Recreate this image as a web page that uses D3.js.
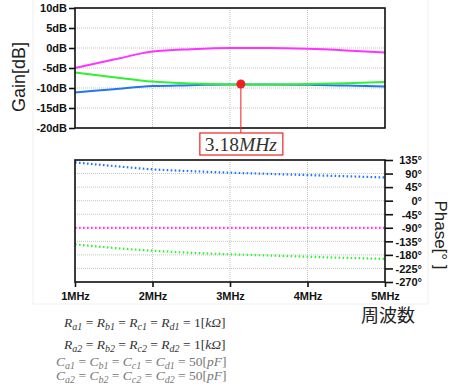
<!DOCTYPE html>
<html>
<head>
<meta charset="utf-8">
<script src="https://cdn.jsdelivr.net/npm/d3@7"></script>
<style>
  html, body { margin: 0; padding: 0; background: #fff; }
  svg { display: block; }
  .tick-label { font-family: "Liberation Sans", Arial, sans-serif; font-weight: bold; font-size: 11px; fill: #111; }
  .formula { font-family: "Liberation Serif", "DejaVu Serif", serif; font-size: 13.5px; }
</style>
</head>
<body>
<svg id="chart"></svg>
<script>
// data
const freqMHz = [1, 1.5, 2, 2.5, 3, 3.5, 4, 4.5, 5];
const gainMagenta = [-5, -2.9, -0.9, -0.3, 0, 0, -0.2, -0.6, -1.1];
const gainGreen = [-6.1, -7.3, -8.4, -8.9, -9.1, -9.1, -9.0, -8.8, -8.5];
const gainBlue = [-11.1, -10.3, -9.5, -9.3, -9.1, -9.1, -9.2, -9.4, -9.6];
const phaseBlue = [127, 115, 104, 98, 93, 89, 85, 81, 77];
const phaseMagenta = [-90, -90, -90, -90, -90, -90, -90, -90, -90];
const phaseGreen = [-145, -157, -166, -173, -178, -182, -186, -190, -193];

const xTicks = [1, 2, 3, 4, 5];
const gainTicks = [10, 5, 0, -5, -10, -15, -20];
const phaseTicks = [135, 90, 45, 0, -45, -90, -135, -180, -225, -270];
// marker sits where the picture draws it (label reads 3.18)
const markerFreq = 3.14;
const markerGain = -9.0;
const markerLabel = '3.18';

const colors = { magenta: '#ff33ff', green: '#33ee33', blue: '#2277ee', red: '#ee2222' };

const width = 453, height = 389;
const svg = d3.select('#chart').attr('width', width).attr('height', height);

// faint pasted-image frame
svg.append('rect')
  .attr('x', 33).attr('y', -1).attr('width', 395).attr('height', 305)
  .attr('fill', 'none').attr('stroke', '#f0f0f0');

const x = d3.scaleLinear().domain([1, 5]).range([75, 385]);
const yGain = d3.scaleLinear().domain([-20, 10]).range([128, 8]);
const yPhase = d3.scaleLinear().domain([-270, 135]).range([282, 160]);

function grid(g, yScale, yTicks, top, bottom) {
  g.selectAll('line.h').data(yTicks).enter().append('line')
    .attr('x1', x(1)).attr('x2', x(5))
    .attr('y1', d => yScale(d)).attr('y2', d => yScale(d))
    .attr('stroke', '#c4c4c4').attr('stroke-dasharray', '1,1');
  g.selectAll('line.v').data(xTicks).enter().append('line')
    .attr('y1', top).attr('y2', bottom)
    .attr('x1', d => x(d)).attr('x2', d => x(d))
    .attr('stroke', '#c4c4c4').attr('stroke-dasharray', '1,1');
}

function frame(top, bottom) {
  svg.append('rect')
    .attr('x', x(1)).attr('y', top)
    .attr('width', x(5) - x(1)).attr('height', bottom - top)
    .attr('fill', 'none').attr('stroke', '#111').attr('stroke-width', 1.6);
}

// ---- Gain chart ----
const gGain = svg.append('g');
grid(gGain, yGain, gainTicks, yGain(10), yGain(-20));

const gainLine = d3.line().x((d, i) => x(freqMHz[i])).y(d => yGain(d)).curve(d3.curveMonotoneX);
[[gainBlue, colors.blue], [gainGreen, colors.green], [gainMagenta, colors.magenta]].forEach(([vals, c]) => {
  gGain.append('path').datum(vals).attr('d', gainLine)
    .attr('fill', 'none').attr('stroke', c).attr('stroke-width', 2);
});
frame(yGain(10), yGain(-20));

const gainAxis = d3.axisLeft(yGain).tickValues(gainTicks).tickSize(6).tickPadding(2)
  .tickFormat(d => d + 'dB');
const gGainAxis = svg.append('g').attr('transform', `translate(${x(1)},0)`).call(gainAxis);
gGainAxis.select('.domain').remove();
gGainAxis.selectAll('.tick line').attr('stroke', '#111').attr('stroke-width', 1.6);
gGainAxis.selectAll('.tick text').attr('class', 'tick-label').attr('dy', '0.35em');

svg.append('text')
  .attr('transform', `translate(25,77) rotate(-90)`)
  .attr('text-anchor', 'middle')
  .style('font-family', '"Liberation Sans", Arial, sans-serif')
  .style('font-size', '18px').style('fill', '#222')
  .text('Gain[dB]');

// ---- Phase chart ----
const gPhase = svg.append('g');
grid(gPhase, yPhase, phaseTicks, yPhase(135), yPhase(-270));

const phaseLine = d3.line().x((d, i) => x(freqMHz[i])).y(d => yPhase(d)).curve(d3.curveMonotoneX);
[[phaseBlue, colors.blue], [phaseMagenta, colors.magenta], [phaseGreen, colors.green]].forEach(([vals, c]) => {
  gPhase.append('path').datum(vals).attr('d', phaseLine)
    .attr('fill', 'none').attr('stroke', c).attr('stroke-width', 2.2)
    .attr('stroke-dasharray', '1.6,2.4');
});
frame(yPhase(135), yPhase(-270));

const phaseAxis = d3.axisRight(yPhase).tickValues(phaseTicks).tickSize(8).tickPadding(0)
  .tickFormat(d => d + '°');
const gPhaseAxis = svg.append('g').attr('transform', `translate(${x(5)},0)`).call(phaseAxis);
gPhaseAxis.select('.domain').remove();
gPhaseAxis.selectAll('.tick line').attr('stroke', '#111').attr('stroke-width', 1.6);
gPhaseAxis.selectAll('.tick text').attr('class', 'tick-label')
  .attr('text-anchor', 'end').attr('x', 37).attr('dy', '0.35em');

const xAxis = d3.axisBottom(x).tickValues(xTicks).tickSize(5).tickPadding(3)
  .tickFormat(d => d + 'MHz');
const gXAxis = svg.append('g').attr('transform', `translate(0,${yPhase(-270)})`).call(xAxis);
gXAxis.select('.domain').remove();
gXAxis.selectAll('.tick line').attr('stroke', '#111').attr('stroke-width', 1.6);
gXAxis.selectAll('.tick text').attr('class', 'tick-label').attr('dy', '0.9em');

svg.append('text')
  .attr('transform', `translate(435,235) rotate(90)`)
  .attr('text-anchor', 'middle')
  .style('font-family', '"Liberation Sans", Arial, sans-serif')
  .style('font-size', '17px').style('fill', '#222')
  .text('Phase[° ]');

svg.append('text')
  .attr('x', 388).attr('y', 322)
  .attr('text-anchor', 'middle')
  .style('font-family', '"Noto Sans CJK JP", sans-serif')
  .style('font-size', '18px').style('fill', '#222')
  .text('周波数');

// ---- marker + annotation ----
const mx = x(markerFreq), my = yGain(markerGain);
svg.append('line')
  .attr('x1', mx).attr('x2', mx).attr('y1', my).attr('y2', 133)
  .attr('stroke', colors.red).attr('stroke-width', 1);
svg.append('circle').attr('cx', mx).attr('cy', my).attr('r', 4.5).attr('fill', colors.red);
svg.append('rect')
  .attr('x', mx - 41).attr('y', 133).attr('width', 83).attr('height', 22)
  .attr('fill', '#fff').attr('stroke', colors.red).attr('stroke-width', 1.2);
const ann = svg.append('text')
  .attr('x', mx).attr('y', 150.5).attr('text-anchor', 'middle')
  .style('font-family', '"Liberation Serif", "DejaVu Serif", serif')
  .style('font-size', '19.5px').style('fill', '#333');
ann.append('tspan').text(markerLabel);
ann.append('tspan').style('font-style', 'italic').text('MHz');

// ---- formulas ----
function formula(xPos, yPos, sym, idx, value, color) {
  const t = svg.append('text').attr('class', 'formula')
    .attr('x', xPos).attr('y', yPos).style('fill', color);
  ['a', 'b', 'c', 'd'].forEach((s, i) => {
    t.append('tspan').style('font-style', 'italic').text(sym);
    t.append('tspan').style('font-style', 'italic').style('font-size', '10px')
      .attr('dy', 3).text(s + idx);
    t.append('tspan').attr('dy', -3).text(i < 2 ? ' =  ' : ' = ');
  });
  t.append('tspan').text(value.num + '[');
  t.append('tspan').style('font-style', 'italic').text(value.unit);
  t.append('tspan').text(']');
}
formula(64, 327, 'R', 1, { num: '1', unit: 'kΩ' }, '#333');
formula(64, 349, 'R', 2, { num: '1', unit: 'kΩ' }, '#333');
formula(56, 366, 'C', 1, { num: '50', unit: 'pF' }, '#777');
formula(56, 380, 'C', 2, { num: '50', unit: 'pF' }, '#777');
</script>
</body>
</html>
